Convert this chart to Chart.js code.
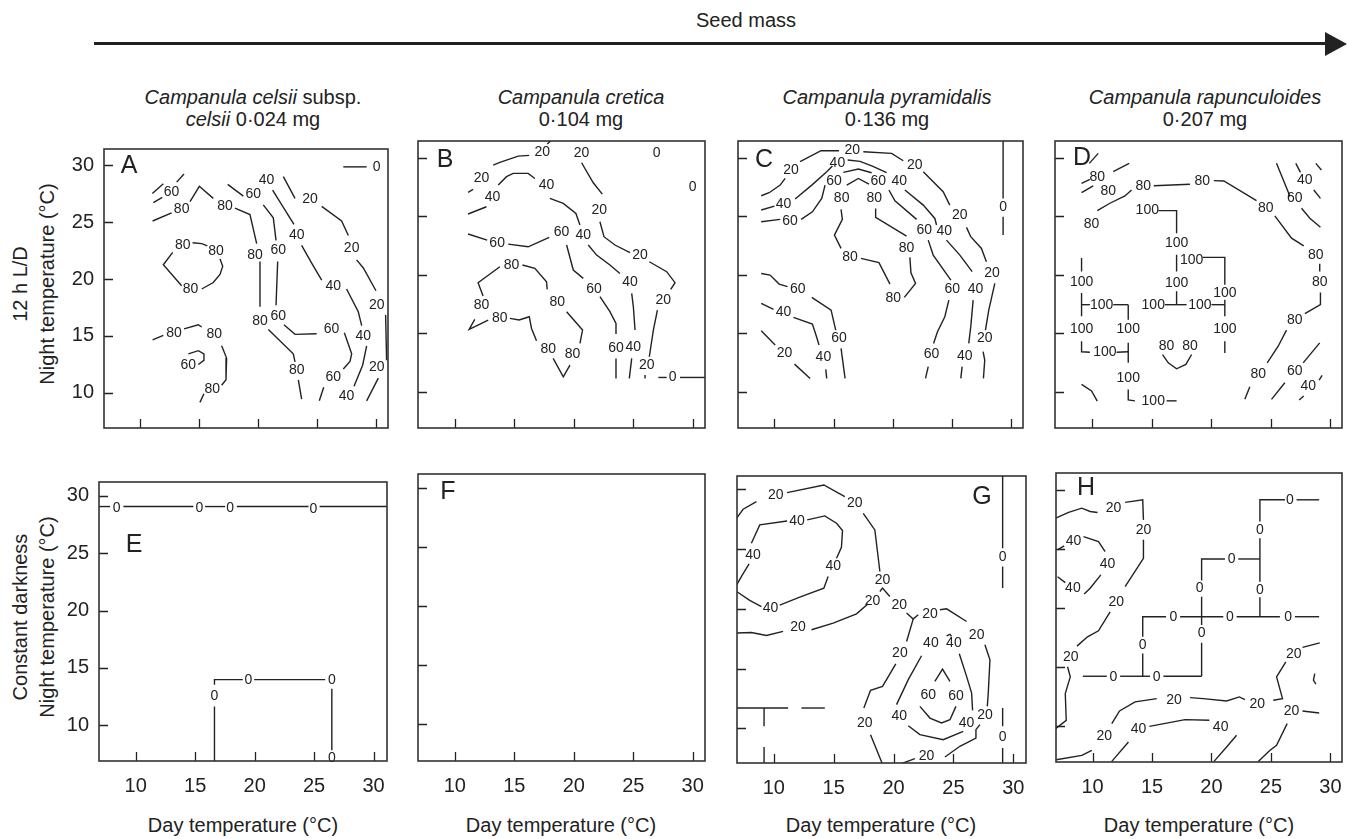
<!DOCTYPE html>
<html><head><meta charset="utf-8">
<script src="https://cdn.jsdelivr.net/npm/chart.js@4.4.0/dist/chart.umd.min.js"></script>
<style>
body{margin:0;width:1347px;height:839px;position:relative;background:#fff;font-family:"Liberation Sans",Arial,Helvetica,sans-serif;color:#222;overflow:hidden}
.t{position:absolute;white-space:nowrap;transform:translate(-50%,-50%);font-size:20px;line-height:1}
.r{position:absolute;white-space:nowrap;transform:translate(-50%,-50%) rotate(-90deg);font-size:20px;line-height:1}
canvas{position:absolute}
</style></head><body>
<div class="t" style="left:746px;top:20px">Seed mass</div>
<div style="position:absolute;left:94px;top:42px;width:1233px;height:3px;background:#222"></div>
<div style="position:absolute;left:1325px;top:32px;width:0;height:0;border-left:22px solid #222;border-top:12px solid transparent;border-bottom:12px solid transparent"></div>

<div class="t" style="left:253px;top:97px"><i>Campanula celsii</i> subsp.</div>
<div class="t" style="left:253px;top:119px"><i>celsii</i> 0·024 mg</div>
<div class="t" style="left:581px;top:97px"><i>Campanula cretica</i></div>
<div class="t" style="left:581px;top:119px">0·104 mg</div>
<div class="t" style="left:887px;top:97px"><i>Campanula pyramidalis</i></div>
<div class="t" style="left:887px;top:119px">0·136 mg</div>
<div class="t" style="left:1205px;top:97px"><i>Campanula rapunculoides</i></div>
<div class="t" style="left:1205px;top:119px">0·207 mg</div>

<div class="r" style="left:20px;top:284px">12 h L/D</div>
<div class="r" style="left:47px;top:284px">Night temperature (°C)</div>
<div class="r" style="left:20px;top:617px">Constant darkness</div>
<div class="r" style="left:47px;top:617px">Night temperature (°C)</div>

<div class="t" style="left:243px;top:825px">Day temperature (°C)</div>
<div class="t" style="left:561px;top:825px">Day temperature (°C)</div>
<div class="t" style="left:881px;top:825px">Day temperature (°C)</div>
<div class="t" style="left:1199px;top:825px">Day temperature (°C)</div>

<script>
const TICK_VALUES = [10, 15, 20, 25, 30];

// Contour polylines: [day temp, night temp]; entries with a third item are inline labels
const A_CONTOURS = [
 [[11.05,27.52],[11.98,28.38]],
 [[11.13,26.72],[11.89,27.18],[12.68,27.66,'60'],[13.11,28.52],[13.73,29.23]],
 [[11.07,25.10],[12.68,25.81],[13.53,26.15,'80'],[14.24,26.81],[15.03,28.15],[16.21,27.09],[17.20,26.38,'80'],[18.05,26.24],[19.32,25.67],[19.89,23.11],[19.75,22.11,'80'],[20.17,21.54],[20.17,17.55],[20.17,16.27,'80'],[20.88,15.56],[22.99,13.42],[23.14,12.71],[23.28,12.0,'80'],[23.42,11.14],[23.70,9.43]],
 [[17.43,28.32],[18.76,27.29],[19.60,27.46,'60'],[20.45,26.52],[21.30,25.38],[21.53,23.39],[21.72,22.54,'60'],[21.67,21.54],[21.53,17.69],[21.72,16.75,'60'],[22.20,15.98],[23.14,15.13],[24.97,15.19],[26.24,15.56,'60'],[27.32,15.27],[27.94,13.42],[27.80,12.76],[27.23,12.08],[26.38,11.34,'60'],[25.57,10.48],[25.20,9.29]],
 [[20.73,28.72,'40'],[21.24,27.81],[23.05,24.81],[23.28,23.82,'40'],[23.70,22.96],[24.55,21.40],[25.40,19.91],[26.38,19.40,'40'],[27.51,19.12],[28.50,17.12],[28.79,15.90],[28.93,14.99,'40'],[29.21,14.13],[28.87,12.42],[28.14,10.57],[27.51,9.72,'40']],
 [[22.15,29.0],[23.14,27.09],[24.41,27.01,'20'],[25.40,26.38],[27.09,25.10],[27.66,23.82],[27.94,22.68,'20'],[28.36,21.68],[28.93,20.97],[30.0,18.97],[30.06,17.69,'20'],[30.82,16.84],[30.90,12.85],[30.06,12.22,'20'],[30.20,11.28],[29.21,9.29]],
 [[27.23,29.86],[29.21,29.86],[30.06,29.83,'0']],
 [[13.62,22.96,'80'],[14.46,23.19],[15.23,23.11],[15.71,22.91],[16.44,22.48,'80'],[16.78,21.77],[17.01,21.11],[16.78,20.40],[16.21,19.69],[15.23,19.12],[14.29,19.12,'80'],[13.53,19.40],[11.98,21.25],[12.77,22.34]],
 [[11.07,14.64],[11.98,15.04],[12.88,15.27,'80'],[13.73,15.61],[14.94,15.98],[15.23,15.78],[16.30,15.13,'80'],[16.92,14.13],[17.34,13.05],[17.29,11.14],[16.92,10.66],[16.13,10.29,'80'],[15.42,9.91],[15.08,9.15]],
 [[14.10,13.42],[14.94,13.70],[15.42,13.42],[15.42,12.85],[14.94,12.48],[14.10,12.42,'60']]
];

const B_CONTOURS = [
 [[11.12,27.04],[11.54,27.29],[12.24,28.23,'20'],[13.23,29.37],[13.79,29.60],[15.33,30.14],[16.26,30.20],[17.35,30.51,'20'],[17.77,31.17],[18.13,31.5]],
 [[11.12,25.19],[12.66,25.81],[13.17,26.67,'40'],[13.65,27.66],[14.35,28.38],[14.91,28.66],[16.17,28.66],[16.73,28.23],[17.71,27.66,'40'],[17.99,26.52],[19.12,26.10],[20.18,25.24],[20.52,24.25],[20.80,23.39,'40'],[21.22,22.54],[21.92,21.68],[23.04,20.83],[23.88,20.11],[24.73,19.40,'40'],[24.87,18.40],[25.01,17.26],[25.15,15.27],[25.01,13.85,'40'],[24.87,12.85],[24.67,11.14]],
 [[11.12,23.48],[12.72,22.96],[13.56,22.68,'60'],[14.49,22.62],[16.17,22.39],[17.94,23.19],[18.98,23.68,'60'],[19.40,22.54],[19.96,20.40],[20.80,19.69],[21.70,18.75,'60'],[22.20,18.12],[23.04,16.84],[23.55,15.84],[23.55,14.93],[23.55,13.70,'60'],[23.55,12.85],[23.55,11.14]],
 [[12.24,17.41,'80'],[11.68,16.18],[11.21,15.33],[12.81,16.13],[13.79,16.32,'80'],[14.63,16.27],[15.41,16.13],[16.26,16.41],[16.45,15.41],[16.87,14.36],[17.85,13.65,'80'],[18.27,12.85],[19.12,11.28],[19.68,12.28],[19.90,13.22,'80'],[20.52,14.13],[20.74,15.27],[19.40,16.84],[18.61,17.69,'80'],[17.77,18.75],[17.71,19.40],[16.73,20.54],[15.69,20.83],[14.77,20.83,'80'],[13.79,20.68],[11.96,19.32],[12.38,18.18]],
 [[20.66,30.43,'20'],[20.66,29.57],[21.64,27.86],[22.40,26.89],[22.15,25.53,'20'],[22.20,24.53],[22.54,23.25],[23.46,22.54],[24.73,21.88],[25.57,21.68,'20'],[26.35,21.11],[27.81,20.26],[28.51,19.32],[28.15,18.75],[27.53,17.83,'20'],[27.03,16.98],[26.69,15.27],[26.35,12.99],[26.13,12.28,'20'],[25.99,11.42],[25.99,11.14]],
 [[26.97,30.43,'0']],
 [[30.0,27.52,'0']],
 [[27.11,11.22],[27.81,11.22],[28.32,11.28,'0'],[28.93,11.22],[31.1,11.22]]
];

const C_CONTOURS = [
 [[8.88,26.75],[9.55,27.01],[10.48,27.66],[10.90,28.23],[11.40,28.95,'20'],[12.16,29.66],[13.93,30.60],[15.45,30.60],[16.57,30.66,'20'],[17.50,30.51],[19.89,30.37],[20.87,29.74],[21.85,29.37,'20'],[22.56,28.80],[24.24,27.09],[24.80,25.95],[25.65,25.10,'20'],[26.21,24.05],[26.57,23.25],[27.47,22.25],[27.89,21.11],[28.37,20.17,'20'],[28.60,19.26],[28.09,16.98],[27.81,15.27],[27.75,14.56,'20'],[27.61,13.42],[27.75,12.71],[27.64,11.14]],
 [[8.88,25.53],[10.0,25.87],[10.76,26.04,'40'],[11.74,26.47],[13.15,27.66],[14.41,28.80],[14.89,29.29],[15.31,29.57,'40'],[16.18,29.80],[17.22,29.69],[18.26,29.29],[19.47,28.72],[20.53,28.03,'40'],[21.01,27.24],[22.56,25.95],[23.54,24.81],[23.68,24.25],[24.33,23.76,'40'],[24.52,22.96],[25.65,21.68],[26.69,20.26],[26.97,18.75,'40'],[26.77,17.83],[26.57,15.56],[26.40,14.13],[26.07,13.05,'40'],[25.84,12.14],[25.73,11.14]],
 [[8.88,24.53],[10.48,24.73],[11.32,24.62,'60'],[12.25,24.73],[13.20,25.38],[13.99,26.52],[14.27,27.66],[15.03,28.01,'60'],[15.81,28.75],[17.08,29.03],[18.20,28.72],[18.76,28.03,'60'],[19.66,27.24],[20.17,26.32],[22.0,24.73],[22.64,23.82,'60'],[22.98,22.96],[23.40,21.68],[24.89,19.54],[25.0,18.75,'60'],[24.72,17.83],[24.38,16.41],[23.76,15.13],[23.43,14.13],[23.26,13.22,'60'],[22.98,12.14],[22.75,11.14]],
 [[15.67,26.52,'80'],[15.62,25.58],[15.73,24.73],[15.06,23.39],[15.62,22.25],[16.38,21.54,'80'],[17.30,21.40],[18.82,21.03],[19.75,19.20],[20.03,17.98,'80'],[20.96,18.06],[21.91,19.26],[21.52,20.17],[21.43,21.48],[21.15,22.25,'80'],[21.15,23.30],[18.54,24.90],[18.54,25.67],[18.43,26.52,'80'],[17.98,27.75],[17.08,28.23],[16.10,27.66]],
 [[29.30,31.5],[29.30,26.52],[29.30,25.81,'0'],[29.30,24.96],[29.30,23.39]],
 [[8.88,20.11],[9.63,19.97],[10.39,19.20],[11.10,18.98],[11.97,18.75,'60'],[13.15,18.06],[14.78,16.98],[15.17,15.27],[15.45,14.56,'60'],[15.62,13.70],[15.96,11.14]],
 [[8.88,17.55],[9.92,17.04],[10.76,16.84,'40'],[11.60,16.35],[13.20,15.78],[13.57,14.64],[13.76,13.99],[14.13,12.99,'40'],[14.33,11.91],[14.41,11.14]],
 [[8.88,15.21],[10.06,13.99],[10.84,13.28,'20'],[11.69,12.36],[13.01,11.14]]
];

const D_CONTOURS = [
 [[9.94,24.35,'80'],[10.42,25.48],[11.48,26.11],[12.74,26.73],[13.30,27.24],[14.28,27.53,'80'],[15.17,27.61],[18.20,27.73],[19.23,28.01,'80'],[20.21,28.04],[21.05,28.01],[23.79,26.34],[24.57,25.68,'80'],[25.33,25.03],[26.73,23.13],[27.76,22.47],[28.77,21.70,'80'],[29.10,20.94],[29.10,20.28],[29.10,19.35,'80'],[29.16,18.49],[29.16,17.44],[27.85,16.68],[27.01,16.11,'80'],[26.31,15.26],[25.61,13.89],[24.69,12.47],[23.93,11.48,'80'],[23.23,10.43],[22.81,9.35]],
 [[9.75,29.52],[10.50,30.37]],
 [[9.10,27.81],[9.80,28.15],[10.42,28.30,'80'],[11.76,28.81],[13.10,29.52]],
 [[9.10,27.02],[10.08,27.59],[11.34,27.16,'80']],
 [[25.47,29.52],[26.59,26.73]],
 [[27.01,26.53,'60'],[27.57,25.68],[28.27,24.83],[29.16,24.06]],
 [[27.09,29.52],[27.48,28.75]],
 [[27.85,28.10,'40']],
 [[28.77,29.52],[29.24,28.95]],
 [[28.60,27.24],[29.16,26.53]],
 [[14.62,25.54,'100'],[15.54,25.48],[17.08,25.48],[17.08,23.55],[17.08,22.70,'100']],
 [[17.08,21.70],[17.08,20.28]],
 [[18.34,21.28,'100'],[19.26,21.48],[21.13,21.48],[21.13,19.15]],
 [[21.13,18.44,'100'],[21.13,17.87],[21.13,16.45],[21.13,15.31,'100'],[21.13,14.32],[21.13,13.32]],
 [[17.08,19.29,'100'],[17.08,18.58],[17.08,17.44]],
 [[9.10,17.44],[9.80,17.44],[10.78,17.44,'100'],[11.76,17.44],[13.02,17.44],[15.12,17.44,'100'],[16.10,17.44],[17.92,17.44],[19.03,17.44,'100'],[20.01,17.44],[21.13,17.44]],
 [[9.10,21.42],[9.10,20.28],[9.10,19.35,'100'],[9.10,18.44],[9.10,16.45],[9.10,15.31,'100'],[9.10,14.32],[9.10,13.42],[9.80,13.38],[11.06,13.38,'100'],[12.04,13.38],[13.02,13.42]],
 [[13.02,17.44],[13.02,16.16],[13.02,15.31,'100'],[13.02,14.18],[13.02,12.47],[13.02,11.19,'100'],[13.02,10.20],[13.02,9.30],[13.58,9.22],[15.12,9.22,'100'],[16.24,9.22],[17.08,9.22]],
 [[16.24,13.89,'80'],[15.90,13.18],[16.38,12.47],[17.08,11.96],[17.86,12.33],[18.34,13.18],[18.20,13.89,'80']],
 [[9.10,10.63],[9.94,10.06],[10.42,9.20]],
 [[25.05,9.35],[26.17,10.77]],
 [[27.01,11.76,'60'],[27.71,12.47],[29.10,14.18]],
 [[28.13,10.48,'40']],
 [[27.37,9.29],[27.76,9.63]],
 [[29.05,11.0],[29.30,11.39]]
];

const E_CONTOURS = [
 [[6.8,29.07],[7.84,29.07],[8.40,28.92,'0'],[8.96,29.07],[14.85,29.07],[15.36,28.92,'0'],[15.83,29.07],[17.52,29.07],[17.94,28.92,'0'],[18.50,29.07],[24.53,29.07],[24.95,28.85,'0'],[25.46,29.07],[31.3,29.07]],
 [[16.62,6.8],[16.62,11.64],[16.62,12.57,'0'],[16.62,13.53],[16.62,13.98],[19.0,13.98],[19.48,13.92,'0'],[19.96,13.98],[25.93,13.98],[26.49,13.92,'0'],[26.49,13.19],[26.49,7.82],[26.49,7.12,'0']]
];

const F_CONTOURS = [];

const G_CONTOURS = [
 [[6.9,27.58],[7.44,28.33],[8.55,28.97],[10.17,29.53,'20'],[11.11,29.72],[14.18,30.36],[15.93,29.39],[16.77,28.83,'20'],[17.47,27.99],[18.44,26.60],[18.86,23.12],[19.08,22.42,'20']],
 [[6.9,17.97],[8.13,18.02],[9.39,17.77],[10.78,18.11],[12.03,18.47,'20'],[13.15,18.25],[14.96,18.80],[16.91,19.58],[17.88,20.42],[18.25,20.61,'20'],[18.86,21.45],[19.08,21.73],[19.69,21.03],[20.47,20.33,'20'],[21.09,19.64],[21.64,19.14],[22.06,19.50],[23.04,19.58,'20'],[23.87,19.92],[24.43,20.0],[26.10,18.94],[26.94,17.83,'20'],[27.63,16.99],[28.05,15.74],[27.91,12.95],[27.83,11.84],[27.63,11.14,'20'],[27.21,10.31],[26.88,9.89],[26.88,9.19],[25.54,8.50],[24.29,7.60],[22.76,7.66,'20'],[21.78,7.47],[20.53,7.0]],
 [[21.64,19.14],[21.09,17.27],[20.53,16.30,'20'],[20.19,15.40],[19.08,13.51],[18.08,13.18],[17.52,11.70],[17.60,10.45,'20'],[18.08,9.47],[19.08,7.0]],
 [[8.27,24.51,'40'],[8.13,25.49],[8.83,27.02],[11.11,27.35],[11.95,27.35,'40'],[12.79,27.44],[14.26,27.77],[15.24,27.16],[15.74,26.55],[15.65,25.15],[15.24,24.23],[14.96,23.59,'40'],[14.54,22.70],[14.18,21.73],[12.17,20.97],[10.50,20.31],[9.72,20.06,'40'],[8.97,20.19],[7.99,20.70],[6.9,21.45]],
 [[7.94,23.76],[7.38,22.84],[6.9,22.01]],
 [[23.12,17.13,'40'],[22.34,16.07],[21.23,14.07],[20.25,11.98],[20.47,11.00,'40'],[21.23,10.22],[22.20,9.47],[24.15,9.05],[25.82,9.75],[26.10,10.45,'40'],[26.60,11.50],[26.52,12.95],[26.10,14.35],[25.49,16.24],[25.04,17.13,'40']],
 [[24.43,17.74],[24.71,17.86],[24.85,17.69]],
 [[23.45,13.93],[24.09,14.96],[24.71,13.93]],
 [[22.90,12.81,'60']],
 [[25.21,12.67,'60']],
 [[22.20,11.84],[23.04,10.86],[24.01,10.45],[24.71,10.72],[25.21,11.84]],
 [[29.11,31.2],[29.11,25.07],[29.11,24.32,'0'],[29.11,23.54],[29.11,21.73]],
 [[29.11,11.70],[29.11,10.17],[29.11,9.28,'0'],[29.11,8.36],[29.11,7.0]],
 [[6.9,11.70],[11.20,11.70]],
 [[12.31,11.70],[14.26,11.70]],
 [[9.19,11.70],[9.19,10.17]],
 [[9.19,8.44],[9.19,7.0]]
];

const H_CONTOURS = [
 [[6.9,27.60],[7.99,28.08],[9.10,28.44],[9.80,28.16],[10.42,28.08],[11.76,28.44,'20'],[12.74,28.93],[14.22,29.15],[14.28,27.45],[14.28,26.55,'20'],[14.28,25.76],[14.28,24.20],[12.74,21.80],[11.99,20.52,'20'],[11.48,19.67],[10.50,18.06],[9.58,17.55],[8.69,16.76],[8.18,15.86,'20'],[7.90,15.01],[8.13,14.16],[7.71,12.74],[7.79,10.48],[6.9,9.77]],
 [[7.06,24.91],[7.62,25.25],[8.41,25.62,'40'],[9.24,26.04],[10.50,25.62],[11.06,24.77],[11.26,23.72,'40'],[10.70,22.79],[9.80,21.66],[9.30,21.17],[8.35,21.66,'40'],[7.71,22.14],[7.06,22.64]],
 [[6.95,7.14],[9.10,7.51],[9.94,7.93],[10.98,9.12,'20'],[11.62,10.20],[12.27,11.27],[13.58,12.04],[15.40,12.32],[16.85,12.23,'20'],[18.20,12.40],[19.31,12.32],[21.27,12.12],[22.34,12.46],[22.81,12.23],[23.85,11.84,'20'],[25.19,12.18],[25.97,12.32],[25.47,14.16],[26.25,15.43],[26.92,16.08,'20'],[27.65,16.65],[29.10,17.04]],
 [[28.68,14.44],[28.57,13.88],[28.77,13.54]],
 [[29.05,11.10],[27.65,11.27],[26.73,11.27,'20'],[26.36,10.20],[25.47,8.36],[24.90,7.93],[23.93,7.0]],
 [[11.62,7.0],[13.02,8.64],[13.86,9.69,'40'],[14.78,9.97],[17.78,10.54],[19.82,10.48],[20.77,9.91,'40'],[22.11,9.21],[21.27,8.22],[20.21,7.0]],
 [[24.07,27.31],[24.07,29.15],[26.17,29.15],[26.59,29.15,'0'],[27.15,29.15],[29.05,29.15]],
 [[24.07,26.61,'0'],[24.07,25.90],[24.07,22.22],[24.07,21.51,'0'],[24.07,20.89],[24.07,19.25]],
 [[19.17,22.31],[19.17,24.14],[21.13,24.14],[21.69,24.14,'0'],[22.25,24.14],[24.07,24.14]],
 [[19.0,21.66,'0'],[19.17,20.95],[19.17,18.54],[19.17,17.84,'0'],[19.17,17.04],[19.17,14.21]],
 [[14.22,17.55],[14.22,19.25],[16.18,19.25],[16.80,19.25,'0'],[17.36,19.25],[20.99,19.25],[21.55,19.25,'0'],[22.11,19.25],[25.75,19.25],[26.45,19.25,'0'],[27.01,19.25],[29.05,19.25]],
 [[14.22,16.85,'0'],[14.22,16.14],[14.22,14.21]],
 [[9.19,14.21],[11.20,14.21],[11.76,14.10,'0'],[12.32,14.21],[14.84,14.21],[15.40,14.15,'0'],[15.96,14.21],[19.17,14.21]]
];

const FONT = '"Liberation Sans", Arial, Helvetica, sans-serif';
const INK = '#222';
const PAD = {l: 60, r: 14, t: 14, b: 56};

const PANELS = [
 {letter:'A', contours:A_CONTOURS, box:[104,141,388,428], x:[6.95,31.02], y:[6.90,31.43], yLab:true,  xLab:false, letterAt:[25,17]},
 {letter:'B', contours:B_CONTOURS, box:[418,141,705,428], x:[6.91,31.03], y:[6.90,31.43], yLab:false, xLab:false, letterAt:[27,19]},
 {letter:'C', contours:C_CONTOURS, box:[738,141,1023,428], x:[6.92,30.98], y:[6.90,31.43], yLab:false, xLab:false, letterAt:[26,19]},
 {letter:'D', contours:D_CONTOURS, box:[1055,141,1342,428], x:[6.87,30.97], y:[6.90,31.43], yLab:false, xLab:false, letterAt:[27,17]},
 {letter:'E', contours:E_CONTOURS, box:[99,474,387,761], x:[6.91,31.13], y:[6.89,31.21], yLab:true,  xLab:true, letterAt:[35,63]},
 {letter:'F', contours:F_CONTOURS, box:[418,474,705,761], x:[6.91,31.03], y:[6.89,31.21], yLab:false, xLab:true, letterAt:[30,18]},
 {letter:'G', contours:G_CONTOURS, box:[737,476,1026,763], x:[6.93,31.06], y:[7.10,31.11], yLab:false, xLab:true, letterAt:[245,21]},
 {letter:'H', contours:H_CONTOURS, box:[1056,473,1342,762], x:[6.93,30.97], y:[6.95,31.42], yLab:false, xLab:true, letterAt:[30,15]}
];

function split(contours){
  const segs = [], labels = [];
  for (const c of contours){
    let cur = [];
    for (const p of c){
      if (p.length > 2){ labels.push(p); if (cur.length > 1) segs.push(cur); cur = []; }
      else cur.push(p);
    }
    if (cur.length > 1) segs.push(cur);
  }
  return {segs, labels};
}

function decor(panel, labels){
  return {
    id: 'decor' + panel.letter,
    afterDatasetsDraw(chart){
      const {ctx, chartArea: a, scales: {x, y}} = chart;
      ctx.save();
      ctx.fillStyle = INK;
      ctx.font = '14px ' + FONT;
      ctx.textAlign = 'center';
      ctx.textBaseline = 'middle';
      for (const [vx, vy, t] of labels) ctx.fillText(t, x.getPixelForValue(vx), y.getPixelForValue(vy));
      ctx.strokeStyle = INK;
      ctx.lineWidth = 1.3;
      ctx.beginPath();
      for (const v of TICK_VALUES){
        const px = Math.round(x.getPixelForValue(v)) + 0.5;
        ctx.moveTo(px, a.bottom); ctx.lineTo(px, a.bottom - 9);
        const py = Math.round(y.getPixelForValue(v)) + 0.5;
        ctx.moveTo(a.left, py); ctx.lineTo(a.left + 9, py);
      }
      ctx.stroke();
      ctx.strokeStyle = '#333';
      ctx.lineWidth = 1.6;
      ctx.strokeRect(a.left, a.top, a.right - a.left, a.bottom - a.top);
      ctx.font = '25px ' + FONT;
      ctx.fillText(panel.letter, a.left + panel.letterAt[0], a.top + panel.letterAt[1]);
      ctx.restore();
    }
  };
}

for (const p of PANELS){
  const [l, t, r, b] = p.box;
  const cv = document.createElement('canvas');
  const W = (r - l) + PAD.l + PAD.r, H = (b - t) + PAD.t + PAD.b;
  cv.width = W; cv.height = H;
  cv.style.left = (l - PAD.l) + 'px'; cv.style.top = (t - PAD.t) + 'px';
  cv.style.width = W + 'px'; cv.style.height = H + 'px';
  document.body.appendChild(cv);
  const {segs, labels} = split(p.contours);
  new Chart(cv, {
    type: 'scatter',
    data: {datasets: segs.map(s => ({
      data: s.map(([x, y]) => ({x, y})),
      showLine: true, pointRadius: 0, borderColor: INK, borderWidth: 1.4, tension: 0, fill: false
    }))},
    options: {
      responsive: false, animation: false, devicePixelRatio: 1,
      layout: {padding: {left: 0, right: PAD.r, top: PAD.t, bottom: 0}},
      plugins: {legend: {display: false}, tooltip: {enabled: false}},
      events: [],
      scales: {
        x: {type: 'linear', min: p.x[0], max: p.x[1],
            afterBuildTicks: s => { s.ticks = TICK_VALUES.map(v => ({value: v})); },
            afterFit: s => { s.height = PAD.b; },
            grid: {display: false, drawTicks: false}, border: {display: false},
            ticks: {display: p.xLab, padding: 13, color: INK, font: {family: FONT, size: 20}, callback: v => String(v), maxRotation: 0}},
        y: {type: 'linear', min: p.y[0], max: p.y[1],
            afterBuildTicks: s => { s.ticks = TICK_VALUES.map(v => ({value: v})); },
            afterFit: s => { s.width = PAD.l; },
            grid: {display: false, drawTicks: false}, border: {display: false},
            ticks: {display: p.yLab, padding: 10, color: INK, font: {family: FONT, size: 20}, callback: v => String(v)}}
      }
    },
    plugins: [decor(p, labels)]
  });
}
</script>
</body></html>
